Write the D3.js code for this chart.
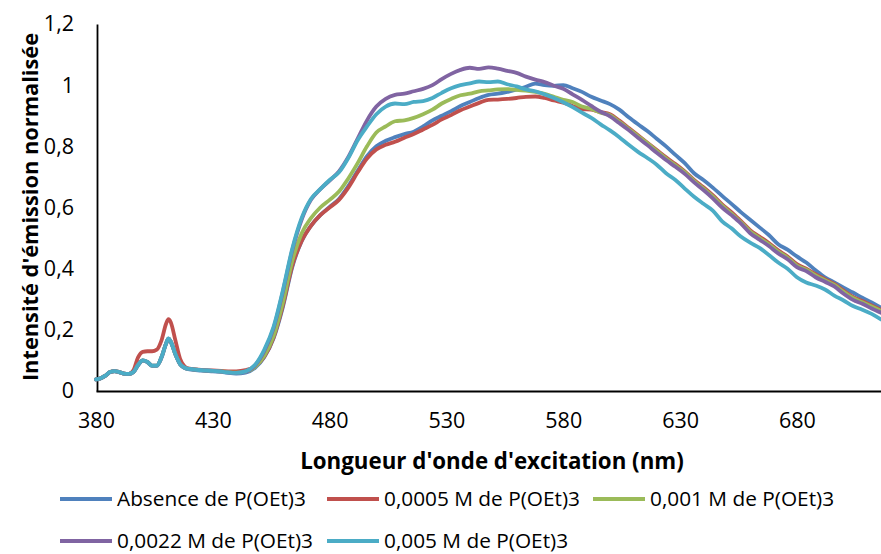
<!DOCTYPE html>
<html>
<head>
<meta charset="utf-8">
<script src="https://cdn.jsdelivr.net/npm/d3@7"></script>
<style>
  body { margin: 0; background: #fff; }
  text { font-family: "Open Sans", sans-serif; fill: #000; }
  .axisTitle { font-weight: bold; }
</style>
</head>
<body>
<div id="chart"></div>
<script>
var svgWidth = 881;
var svgHeight = 554;

// wavelengths (nm)
var wavelengths = [380, 382, 384, 386, 388, 390, 392, 394, 396, 398, 400, 402, 404, 406, 408, 410, 411, 412, 414, 416, 418, 420, 425, 430, 435, 440,
  444, 448, 452, 456, 460, 464, 468, 472, 476, 480, 484, 488, 492, 496, 500, 504, 508, 512, 516, 520, 524, 528, 532, 536, 540,
  544, 548, 552, 556, 560, 564, 568, 572, 576, 580, 584, 588, 592, 596, 600, 604, 608, 612, 616, 620, 624, 628, 632, 636, 640,
  644, 648, 652, 656, 660, 664, 668, 672, 676, 680, 684, 688, 692, 696, 700, 704, 708, 712, 716];

var seriesNames = ["Absence de P(OEt)3", "0,0005 M de P(OEt)3", "0,001 M de P(OEt)3", "0,0022 M de P(OEt)3", "0,005 M de P(OEt)3"];

var absence = [0.037, 0.041, 0.049, 0.061, 0.064, 0.061, 0.057, 0.055, 0.061, 0.084, 0.099, 0.094, 0.082, 0.082, 0.108, 0.155, 0.170, 0.160, 0.119, 0.087, 0.075, 0.071, 0.067, 0.064, 0.061, 0.057,
  0.060, 0.075, 0.110, 0.172, 0.275, 0.405, 0.490, 0.540, 0.575, 0.602, 0.628, 0.670, 0.720, 0.768, 0.800, 0.818, 0.830, 0.840, 0.848, 0.865, 0.885, 0.900, 0.915, 0.932, 0.945,
  0.958, 0.968, 0.972, 0.978, 0.985, 0.995, 1.005, 1.000, 0.998, 1.000, 0.990, 0.978, 0.962, 0.950, 0.938, 0.920, 0.895, 0.872, 0.850, 0.825, 0.800, 0.772, 0.745, 0.712, 0.690,
  0.665, 0.638, 0.612, 0.585, 0.560, 0.535, 0.510, 0.480, 0.462, 0.440, 0.420, 0.395, 0.372, 0.355, 0.338, 0.322, 0.305, 0.290, 0.272];

var m0005 = [0.038, 0.042, 0.050, 0.062, 0.065, 0.062, 0.057, 0.056, 0.068, 0.110, 0.128, 0.130, 0.130, 0.135, 0.165, 0.220, 0.235, 0.225, 0.165, 0.105, 0.080, 0.073, 0.069, 0.067, 0.065, 0.064,
  0.068, 0.080, 0.112, 0.175, 0.280, 0.410, 0.490, 0.540, 0.575, 0.600, 0.625, 0.665, 0.715, 0.760, 0.790, 0.805, 0.815, 0.828, 0.840, 0.855, 0.870, 0.888, 0.902, 0.918, 0.930,
  0.942, 0.952, 0.953, 0.955, 0.958, 0.962, 0.963, 0.958, 0.950, 0.943, 0.932, 0.922, 0.920, 0.912, 0.905, 0.884, 0.860, 0.836, 0.812, 0.788, 0.764, 0.742, 0.718, 0.690, 0.666,
  0.640, 0.610, 0.585, 0.556, 0.526, 0.505, 0.484, 0.460, 0.440, 0.415, 0.400, 0.382, 0.366, 0.350, 0.328, 0.308, 0.294, 0.280, 0.265];

var m001 = [0.038, 0.042, 0.050, 0.062, 0.065, 0.062, 0.057, 0.056, 0.062, 0.085, 0.100, 0.095, 0.083, 0.083, 0.110, 0.155, 0.171, 0.162, 0.120, 0.088, 0.076, 0.072, 0.068, 0.066, 0.063, 0.060,
  0.063, 0.078, 0.115, 0.180, 0.290, 0.425, 0.515, 0.565, 0.600, 0.625, 0.652, 0.695, 0.745, 0.800, 0.845, 0.865, 0.882, 0.885, 0.893, 0.905, 0.920, 0.940, 0.955, 0.967, 0.972,
  0.980, 0.983, 0.986, 0.987, 0.985, 0.982, 0.978, 0.972, 0.962, 0.952, 0.945, 0.930, 0.922, 0.910, 0.902, 0.880, 0.857, 0.833, 0.810, 0.785, 0.760, 0.738, 0.715, 0.687, 0.662,
  0.636, 0.606, 0.580, 0.552, 0.522, 0.500, 0.480, 0.456, 0.436, 0.410, 0.397, 0.378, 0.362, 0.347, 0.324, 0.304, 0.290, 0.276, 0.262];

var m0022 = [0.038, 0.042, 0.050, 0.062, 0.065, 0.062, 0.057, 0.056, 0.062, 0.085, 0.100, 0.095, 0.083, 0.083, 0.110, 0.155, 0.171, 0.162, 0.120, 0.088, 0.076, 0.072, 0.068, 0.066, 0.062, 0.059,
  0.063, 0.083, 0.130, 0.205, 0.325, 0.460, 0.560, 0.625, 0.660, 0.688, 0.718, 0.765, 0.825, 0.885, 0.930, 0.955, 0.968, 0.972, 0.980, 0.988, 1.000, 1.020, 1.037, 1.050, 1.057,
  1.053, 1.058, 1.054, 1.047, 1.040, 1.028, 1.018, 1.010, 0.998, 0.988, 0.970, 0.952, 0.932, 0.913, 0.898, 0.876, 0.853, 0.828, 0.804, 0.779, 0.755, 0.733, 0.710, 0.682, 0.657,
  0.630, 0.600, 0.575, 0.548, 0.516, 0.495, 0.474, 0.450, 0.431, 0.405, 0.392, 0.372, 0.357, 0.342, 0.318, 0.298, 0.285, 0.270, 0.256];

var m005 = [0.038, 0.042, 0.050, 0.062, 0.065, 0.062, 0.057, 0.056, 0.062, 0.085, 0.100, 0.095, 0.083, 0.083, 0.110, 0.155, 0.172, 0.162, 0.120, 0.088, 0.076, 0.072, 0.068, 0.066, 0.062, 0.059,
  0.064, 0.085, 0.135, 0.210, 0.330, 0.465, 0.565, 0.628, 0.660, 0.690, 0.715, 0.762, 0.820, 0.865, 0.905, 0.930, 0.940, 0.938, 0.945, 0.948, 0.958, 0.975, 0.990, 1.000, 1.006,
  1.012, 1.010, 1.012, 1.003, 0.996, 0.986, 0.980, 0.970, 0.958, 0.944, 0.928, 0.910, 0.893, 0.872, 0.852, 0.830, 0.805, 0.782, 0.762, 0.740, 0.712, 0.690, 0.662, 0.635, 0.612,
  0.590, 0.555, 0.532, 0.505, 0.485, 0.468, 0.445, 0.420, 0.400, 0.372, 0.355, 0.345, 0.332, 0.312, 0.296, 0.278, 0.266, 0.252, 0.234];

var xTicks = [380, 430, 480, 530, 580, 630, 680];
var yTicks = [0, 0.2, 0.4, 0.6, 0.8, 1, 1.2];
var colors = ["#4f81bd", "#c0504d", "#9bbb59", "#8064a2", "#4bacc6"];

var allSeries = [absence, m0005, m001, m0022, m005];

var svg = d3.select("#chart")
  .append("svg")
  .attr("width", svgWidth)
  .attr("height", svgHeight);

var xScale = d3.scaleLinear()
  .domain([380, 716])
  .range([96, 881]);

var yScale = d3.scaleLinear()
  .domain([0, 1.2])
  .range([391, 24]);

var fr = d3.formatLocale({ decimal: ",", thousands: " ", grouping: [3], currency: ["", "€"] });
var yFormat = fr.format("~g");

var bottomAxis = d3.axisBottom(xScale)
  .tickValues(xTicks)
  .tickSize(0)
  .tickPadding(22);

var leftAxis = d3.axisLeft(yScale)
  .tickValues(yTicks)
  .tickSize(0)
  .tickPadding(23)
  .tickFormat(yFormat);

var xAxisG = svg.append("g")
  .attr("transform", "translate(0, 391)")
  .call(bottomAxis);

var yAxisG = svg.append("g")
  .attr("transform", "translate(97, 0)")
  .call(leftAxis);

[xAxisG, yAxisG].forEach(function(g) {
  g.select(".domain").attr("stroke", "#000").attr("stroke-width", 1.8);
  g.selectAll("text")
    .style("font-family", "'Open Sans', sans-serif")
    .style("font-size", "21.5px")
    .attr("fill", "#000");
});

var line = d3.line()
  .x(function(d, i) { return xScale(wavelengths[i]); })
  .y(function(d) { return yScale(d); })
  .curve(d3.curveMonotoneX);

svg.append("g")
  .selectAll("path")
  .data(allSeries)
  .enter()
  .append("path")
  .attr("d", line)
  .attr("fill", "none")
  .attr("stroke", function(d, i) { return colors[i]; })
  .attr("stroke-width", 3.8)
  .attr("stroke-linejoin", "round")
  .attr("stroke-linecap", "round");

// axis titles
svg.append("text")
  .attr("class", "axisTitle")
  .attr("x", 492)
  .attr("y", 469)
  .attr("text-anchor", "middle")
  .style("font-size", "22.3px")
  .text("Longueur d'onde d'excitation (nm)");

svg.append("text")
  .attr("class", "axisTitle")
  .attr("transform", "translate(38, 207) rotate(-90)")
  .attr("text-anchor", "middle")
  .style("font-size", "21.8px")
  .text("Intensité d'émission normalisée");

// legend
var legendCols = [60, 327, 593];
var legendRows = [499, 541];
var legend = svg.append("g")
  .selectAll("g")
  .data(seriesNames)
  .enter()
  .append("g")
  .attr("transform", function(d, i) {
    return "translate(" + legendCols[i % 3] + "," + legendRows[Math.floor(i / 3)] + ")";
  });

legend.append("line")
  .attr("x1", 0)
  .attr("x2", 52)
  .attr("stroke", function(d, i) { return colors[i]; })
  .attr("stroke-width", 3.8);

legend.append("text")
  .attr("x", 57)
  .attr("dy", "0.35em")
  .style("font-size", "20.8px")
  .text(function(d) { return d; });
</script>
</body>
</html>
